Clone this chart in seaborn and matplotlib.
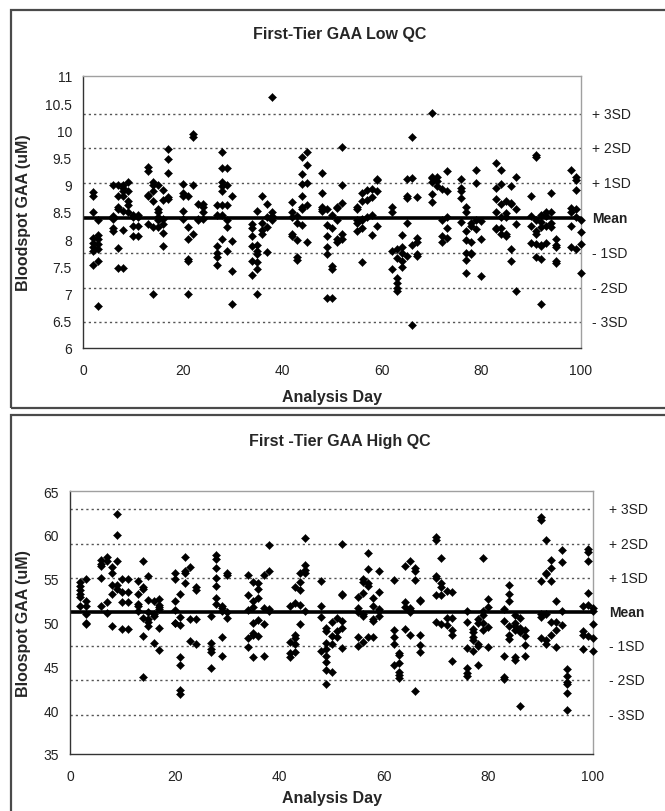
import matplotlib
matplotlib.use("Agg")
import matplotlib.pyplot as plt
import pandas as pd
import seaborn as sns
from matplotlib.patches import Rectangle

# ---------------- data ----------------
low_days = [2, 3, 6, 7, 8, 9, 10, 11, 13, 14, 15, 16, 17, 20, 21, 22, 23, 24,
            27, 28, 29, 30, 34, 35, 36, 37, 38, 42, 43, 44, 45, 48, 49, 50, 51, 52,
            55, 56, 57, 58, 59, 62, 63, 64, 65, 66, 67, 70, 71, 72, 73, 76, 77, 78,
            79, 80, 83, 84, 85, 86, 87, 90, 91, 92, 93, 94, 95, 98, 99, 100]
low_values = [
    [8.87, 8.80, 8.50, 8.02, 7.93, 7.85, 7.78, 7.52],
    [8.35, 8.08, 8.00, 7.92, 7.82, 7.60, 6.77],
    [9.00, 8.42, 8.38, 8.20, 8.15],
    [9.00, 8.80, 8.60, 8.55, 7.83, 7.47],
    [9.00, 8.95, 8.88, 8.80, 8.52, 8.17, 7.47],
    [9.05, 8.88, 8.70, 8.62, 8.50],
    [8.45, 8.40, 8.25, 8.05],
    [8.45, 8.40, 8.25, 8.05],
    [9.33, 9.25, 8.82, 8.80, 8.28],
    [9.05, 9.00, 8.88, 8.70, 8.22, 6.99],
    [9.00, 8.55, 8.50, 8.40, 8.35, 8.22],
    [8.90, 8.72, 8.38, 8.28, 8.12, 7.88],
    [9.65, 9.47, 9.22, 8.77, 8.73],
    [9.02, 8.85, 8.80, 8.52, 8.38],
    [8.80, 8.22, 8.00, 7.63, 7.60, 7.00],
    [9.93, 9.87, 9.00, 8.10],
    [8.65, 8.35, 8.38],
    [8.65, 8.60, 8.50, 8.38],
    [8.63, 8.45, 7.88, 7.75, 7.68, 7.52],
    [9.60, 9.30, 9.05, 8.98, 8.88, 8.62, 8.45, 8.00],
    [9.30, 9.00, 8.62, 8.35, 8.22, 7.78],
    [8.80, 7.97, 7.42, 6.80],
    [8.28, 8.20, 8.05, 7.87, 7.60, 7.35],
    [8.52, 7.90, 7.78, 7.72, 7.58, 7.45, 7.00],
    [8.80, 8.30, 8.17, 8.10],
    [8.65, 8.40, 8.22, 7.77],
    [10.62, 8.50, 8.43, 8.35],
    [8.68, 8.50, 8.40, 8.10, 8.05],
    [8.42, 8.30, 7.98, 7.67, 7.62],
    [9.52, 9.20, 9.02, 8.80, 8.60, 8.55, 8.27],
    [9.60, 9.37, 9.03, 8.62, 7.95],
    [9.22, 8.85, 8.60, 8.55, 8.52],
    [8.55, 8.27, 8.05, 7.85, 7.73, 6.92],
    [8.45, 8.20, 7.50, 7.45, 6.92],
    [8.60, 8.58, 8.35, 8.00, 7.95],
    [9.70, 9.00, 8.67, 8.10, 8.00],
    [8.60, 8.55, 8.35, 8.30, 8.15],
    [8.85, 8.70, 8.38, 8.35, 8.20, 7.58],
    [8.90, 8.72, 8.40],
    [8.92, 8.78, 8.45, 8.08],
    [9.10, 9.08, 8.88, 8.25],
    [8.60, 8.50, 7.78, 7.45],
    [7.82, 7.65, 7.28, 7.20, 7.10, 7.05],
    [8.08, 7.85, 7.75, 7.60, 7.48],
    [9.10, 8.80, 8.75, 8.30, 7.70],
    [9.87, 9.12, 7.90, 6.43],
    [8.77, 8.02, 7.95, 7.72, 7.70],
    [10.32, 9.15, 9.12, 9.05, 8.83, 8.68],
    [9.15, 9.07, 8.98],
    [8.92, 8.35, 8.05, 7.95],
    [9.25, 8.88, 8.40, 8.20, 8.02],
    [9.10, 8.95, 8.88, 8.75, 8.32],
    [8.60, 8.50, 8.15, 7.98, 7.75, 7.62, 7.38],
    [8.30, 8.25, 7.95, 7.75, 7.72],
    [9.28, 9.03, 8.35, 8.18],
    [8.33, 8.00, 7.32],
    [9.40, 8.95, 8.73, 8.50, 8.20, 8.18],
    [9.28, 9.02, 8.65, 8.40, 8.20, 8.10],
    [8.70, 8.48, 8.40, 8.10, 8.05],
    [8.98, 8.67, 8.65, 7.82, 7.60],
    [9.15, 8.55, 8.28, 7.05],
    [8.80, 8.42, 8.25, 7.93],
    [9.55, 9.52, 8.35, 8.15, 8.10, 7.92, 7.68],
    [8.45, 8.32, 8.22, 7.90, 7.88, 7.63, 6.80],
    [8.50, 8.42, 8.25, 7.93],
    [8.85, 8.50, 8.30, 8.22],
    [8.00, 7.90, 7.85, 7.60, 7.57],
    [9.27, 8.58, 8.50, 8.25, 7.85],
    [9.15, 9.08, 8.90, 8.55, 8.40, 7.82],
    [8.35, 8.13, 7.92, 7.38],
]
low_mean = 8.39
low_sd = 0.64

high_days = [2, 3, 6, 7, 8, 9, 10, 11, 13, 14, 15, 16, 17, 20, 21, 22, 23, 24,
             27, 28, 29, 30, 34, 35, 36, 37, 38, 42, 43, 44, 45, 48, 49, 50, 51, 52,
             55, 56, 57, 58, 59, 62, 63, 64, 65, 66, 67, 70, 71, 72, 73, 76, 77, 78,
             79, 80, 83, 84, 85, 86, 87, 90, 91, 92, 93, 94, 95, 98, 99, 100]
high_values = [
    [54.6, 54.2, 53.7, 53.2, 52.9, 51.9],
    [55.0, 52.4, 51.9, 51.0, 50.0, 49.8],
    [57.1, 56.7, 56.4, 55.1, 51.9],
    [57.5, 57.0, 52.3, 51.1],
    [56.3, 55.7, 54.3, 53.3, 49.6],
    [62.4, 60.0, 57.0, 54.3, 53.8],
    [55.0, 53.5, 52.3, 49.3],
    [55.0, 53.5, 52.3, 49.3],
    [54.7, 53.2, 52.1, 51.9, 51.3],
    [57.0, 54.0, 53.8, 50.5, 48.5, 43.8],
    [55.3, 52.6, 51.2, 50.4, 50.1, 49.6],
    [52.5, 51.0, 50.7, 47.7],
    [52.7, 52.0, 51.8, 51.5, 49.4, 46.9],
    [55.7, 55.0, 52.4, 51.4, 50.0, 49.9],
    [53.2, 50.6, 49.7, 46.1, 45.2, 42.3, 41.8],
    [57.5, 55.9, 55.7, 54.5],
    [56.3, 50.4, 47.9],
    [54.1, 53.7, 50.4, 47.6],
    [50.7, 47.7, 47.0, 46.6, 44.8],
    [57.7, 57.3, 56.2, 55.1, 54.2, 52.8, 52.1],
    [51.9, 51.6, 51.3, 48.3, 46.2],
    [55.6, 55.4, 51.2, 50.5],
    [55.4, 53.1, 51.4, 48.2, 47.2],
    [54.6, 52.5, 51.8, 50.0, 48.8, 48.6, 46.1],
    [54.5, 53.8, 52.8, 50.3, 48.5],
    [55.4, 51.6, 49.8, 46.2],
    [58.8, 55.9, 51.5, 51.3],
    [51.9, 47.8, 46.5, 46.1],
    [54.1, 52.2, 48.6, 48.2, 47.5, 46.6],
    [55.6, 54.6, 53.7, 52.0, 49.8],
    [59.6, 56.6, 56.0, 55.6, 51.3],
    [54.7, 51.9, 50.6, 46.7],
    [49.4, 49.0, 47.7, 47.0, 46.2, 45.5, 44.6, 43.0],
    [50.1, 48.5, 47.5, 44.4],
    [50.5, 49.0, 48.4],
    [59.0, 53.3, 53.1, 50.2, 49.4, 47.1],
    [52.9, 51.6, 51.2, 48.3, 47.3],
    [55.0, 54.6, 53.4, 51.0, 50.7, 47.8],
    [57.9, 56.1, 54.5, 54.2, 48.4],
    [52.8, 51.9, 50.4, 50.2, 48.4],
    [55.9, 53.5, 51.5, 51.3, 50.7],
    [54.9, 49.2, 48.3, 47.6, 45.1],
    [46.5, 46.3, 45.4, 44.4, 44.0, 43.7],
    [56.4, 52.3, 51.8, 49.3],
    [57.0, 51.6, 51.4, 51.2, 48.6],
    [56.2, 55.9, 54.8, 42.2],
    [52.6, 52.5, 48.6, 47.4, 46.6],
    [59.8, 59.4, 55.3, 55.1, 53.1, 50.1],
    [57.4, 54.5, 54.0, 53.1, 49.8],
    [53.6, 50.5, 49.7],
    [53.5, 50.5, 49.1, 48.6, 45.6],
    [51.3, 50.1, 47.1, 44.8, 44.2, 43.9],
    [49.3, 48.9, 48.4, 48.0, 46.8],
    [50.4, 50.0, 47.5, 47.3, 45.2],
    [57.4, 51.3, 50.9, 49.9, 49.2],
    [52.7, 51.8, 49.5, 47.2],
    [51.5, 50.2, 46.2, 43.8, 43.5],
    [54.3, 53.3, 52.4, 49.6, 48.6, 48.1],
    [50.8, 50.0, 49.6, 49.2, 46.1, 45.7],
    [50.5, 49.4, 49.1, 48.9, 40.5],
    [49.1, 48.5, 47.4, 46.2],
    [62.0, 61.7, 54.7, 51.0, 50.6, 48.2],
    [59.4, 55.7, 55.5, 51.0, 48.0, 47.6],
    [57.1, 56.2, 54.7, 50.1, 48.6],
    [52.4, 50.1, 49.2, 47.2],
    [58.3, 56.9, 51.3, 49.7],
    [44.7, 43.9, 43.2, 43.0, 42.0, 40.0],
    [51.9, 49.0, 48.6, 47.0],
    [58.4, 58.0, 57.0, 53.4, 52.0, 48.5],
    [51.6, 51.3, 49.8, 48.2, 46.7],
]
high_mean = 51.2
high_sd = 3.9

sd_labels = ["+ 3SD", "+ 2SD", "+ 1SD", "Mean", "- 1SD", "- 2SD", "- 3SD"]
sd_steps = [3, 2, 1, 0, -1, -2, -3]


def to_frame(days, values):
    rows = [(d, v) for d, vs in zip(days, values) for v in vs]
    return pd.DataFrame(rows, columns=["day", "value"])


low_df = to_frame(low_days, low_values)
high_df = to_frame(high_days, high_values)

# ---------------- style ----------------
sns.set_style("white")
plt.rcParams["font.family"] = ["Liberation Sans", "DejaVu Sans"]

W, H = 665, 812
fig = plt.figure(figsize=(W / 100, H / 100), dpi=100)


def px_axes(left, right, top, bottom):
    return fig.add_axes([left / W, 1 - bottom / H, (right - left) / W, (bottom - top) / H])


# chart-area boxes
for (x0, y0, x1, y1) in [(10.5, 10.5, 700, 409), (10.5, 416, 700, 830)]:
    fig.patches.append(Rectangle((x0 / W, 1 - y1 / H), (x1 - x0) / W, (y1 - y0) / H,
                                 transform=fig.transFigure, fill=False,
                                 edgecolor="#4a4a4a", linewidth=1.6, zorder=0))

panels = [
    dict(df=low_df, mean=low_mean, sd=low_sd, box=(83, 581, 77, 349),
         ylim=(6, 11), yticks=[6, 6.5, 7, 7.5, 8, 8.5, 9, 9.5, 10, 10.5, 11],
         ylabel="Bloodspot GAA (uM)", title="First-Tier GAA Low QC", title_y=35,
         lab_x=1.022, ylab_x=-0.104, xlab_y=-0.151),
    dict(df=high_df, mean=high_mean, sd=high_sd, box=(70, 593, 492, 755),
         ylim=(35, 65), yticks=[35, 40, 45, 50, 55, 60, 65],
         ylabel="Bloospot GAA (uM)", title="First -Tier GAA High QC", title_y=442,
         lab_x=1.030, ylab_x=-0.075, xlab_y=-0.137),
]

for p in panels:
    ax = px_axes(*p["box"])
    for k in sd_steps:
        yv = p["mean"] + k * p["sd"]
        if k == 0:
            ax.axhline(yv, color="black", lw=2.6, zorder=2)
        else:
            ax.axhline(yv, color="#555555", lw=1.0, ls=(0, (1.6, 2.2)), zorder=1)
    sns.scatterplot(data=p["df"], x="day", y="value", ax=ax, marker="D", s=17,
                    color="black", edgecolor="black", linewidth=0.3,
                    clip_on=False, zorder=3, legend=False)
    ax.set_xlim(0, 100)
    ax.set_ylim(*p["ylim"])
    ax.set_xticks([0, 20, 40, 60, 80, 100])
    ax.set_yticks(p["yticks"])
    ax.set_yticklabels([f"{t:g}" for t in p["yticks"]])
    ax.tick_params(axis="both", direction="out", length=4, width=1,
                   color="#333333", labelsize=10, labelcolor="#222222")
    ax.tick_params(axis="x", pad=7)
    ax.tick_params(axis="y", pad=4)
    for side in ["left", "bottom"]:
        ax.spines[side].set_color("#333333")
        ax.spines[side].set_linewidth(1.0)
    for side in ["top", "right"]:
        ax.spines[side].set_color("#a0a0a0")
        ax.spines[side].set_linewidth(1.0)
    ax.set_ylabel(p["ylabel"], fontsize=11.5, fontweight="bold")
    ax.set_xlabel("Analysis Day", fontsize=11.5, fontweight="bold")
    ax.yaxis.set_label_coords(p["ylab_x"], 0.5)
    ax.xaxis.set_label_coords(0.5, p["xlab_y"])
    trans = ax.get_yaxis_transform()
    for k, lab in zip(sd_steps, sd_labels):
        yv = p["mean"] + k * p["sd"]
        ax.text(p["lab_x"], yv, lab, transform=trans, ha="left", va="center",
                fontsize=10, color="#222222",
                fontweight="bold" if k == 0 else "normal", clip_on=False)
    fig.text(340 / W, 1 - p["title_y"] / H, p["title"], ha="center", va="center",
             fontsize=11.5, fontweight="bold")

fig.savefig("out.png", dpi=100)
